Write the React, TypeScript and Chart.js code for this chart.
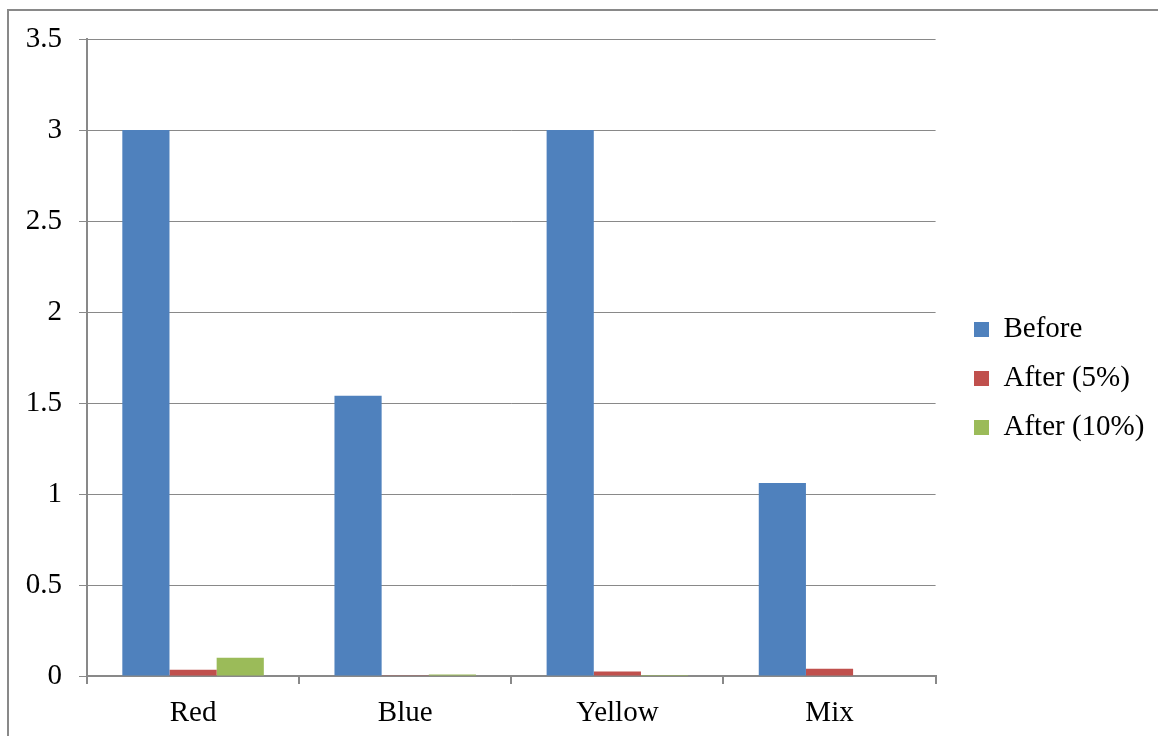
import React, { useEffect, useRef } from "react";
import { Chart, registerables } from "chart.js";

Chart.register(...registerables);

const categories = ["Red", "Blue", "Yellow", "Mix"];
const seriesNames = ["Before", "After (5%)", "After (10%)"];
const beforeValues = [3, 1.54, 3, 1.06];
const after5Values = [0.035, 0.002, 0.025, 0.04];
const after10Values = [0.1, 0.008, 0.006, 0];
const seriesColors = ["#4F81BD", "#C0504D", "#9BBB59"];
const yMin = 0;
const yMax = 3.5;
const yStep = 0.5;

const FONT = "'Liberation Serif', 'Times New Roman', serif";
const GRID = "#898989";
const FONT_SIZE = 29;

const framePlugin = {
  id: "frame",
  beforeDraw(chart: any) {
    const ctx = chart.ctx;
    ctx.save();
    ctx.fillStyle = "#ffffff";
    ctx.fillRect(0, 0, chart.width, chart.height);
    ctx.strokeStyle = GRID;
    ctx.lineWidth = 2;
    ctx.strokeRect(8, 10, chart.width + 40, chart.height + 40);
    ctx.restore();
  },
  afterLayout(chart: any) {
    const lg = chart.legend;
    if (lg) {
      const w = lg.width;
      lg.left = 954;
      lg.right = 954 + w;
      lg.top = 30;
      lg.bottom = 727;
    }
  },
};

export default function App() {
  const ref = useRef<HTMLCanvasElement>(null);
  useEffect(() => {
    if (!ref.current) return;
    const chart = new Chart(ref.current, {
      type: "bar",
      data: {
        labels: categories,
        datasets: [
          { label: seriesNames[0], data: beforeValues, backgroundColor: seriesColors[0] },
          { label: seriesNames[1], data: after5Values, backgroundColor: seriesColors[1] },
          { label: seriesNames[2], data: after10Values, backgroundColor: seriesColors[2] },
        ],
      },
      options: {
        responsive: false,
        animation: false,
        layout: { padding: { left: 0, top: 39, right: 22, bottom: 0 } },
        datasets: {
          bar: { categoryPercentage: 0.667, barPercentage: 1 },
        },
        plugins: {
          legend: {
            position: "right",
            align: "center",
            labels: {
              boxWidth: 15,
              boxHeight: 15,
              padding: 20,
              color: "#000",
              font: { family: FONT, size: FONT_SIZE },
            },
          },
          tooltip: { enabled: false },
        },
        scales: {
          x: {
            grid: {
              offset: true,
              drawOnChartArea: false,
              drawTicks: true,
              tickLength: 8,
              color: GRID,
              lineWidth: 2,
            },
            border: { color: GRID, width: 2 },
            ticks: { color: "#000", padding: 12, font: { family: FONT, size: FONT_SIZE } },
            afterFit: (s: any) => {
              s.height = 60;
            },
          },
          y: {
            min: yMin,
            max: yMax,
            grid: { color: GRID, tickLength: 8, drawTicks: true, lineWidth: 1 },
            border: { color: GRID, width: 2 },
            ticks: {
              stepSize: yStep,
              color: "#000",
              padding: 17,
              font: { family: FONT, size: FONT_SIZE },
              callback: (v: any) => String(Number(v)),
            },
            afterFit: (s: any) => {
              s.width = 87;
            },
          },
        },
      },
      plugins: [framePlugin],
    });
    return () => chart.destroy();
  }, []);
  return (
    <div style={{ position: "absolute", left: 0, top: 0, width: 1158, height: 736 }}>
      <canvas ref={ref} width={1158} height={736} />
    </div>
  );
}
